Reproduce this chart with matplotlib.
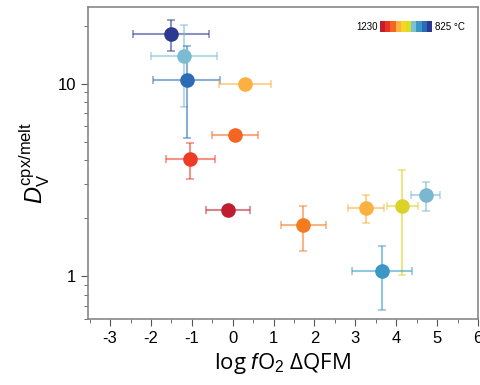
import numpy as np
import matplotlib
matplotlib.use("Agg")
import matplotlib.pyplot as plt
from matplotlib.ticker import FixedLocator, NullFormatter, MultipleLocator

plt.rcParams['font.family'] = ['Liberation Sans', 'DejaVu Sans']
plt.rcParams['axes.unicode_minus'] = False
plt.rcParams['mathtext.fontset'] = 'custom'
plt.rcParams['mathtext.rm'] = 'Liberation Sans'
plt.rcParams['mathtext.it'] = 'Liberation Sans:italic'

# data
dqfm = [-1.51, -1.19, -1.13, 0.30, 0.06, -1.04, -0.11, 1.73, 3.26, 4.15, 4.72, 3.65]
dqfm_err = [0.93, 0.80, 0.82, 0.64, 0.57, 0.60, 0.54, 0.54, 0.43, 0.38, 0.35, 0.74]
dv = [18.2, 13.9, 10.4, 9.9, 5.42, 4.07, 2.21, 1.85, 2.26, 2.32, 2.65, 1.06]
dv_hi = [21.5, 20.2, 15.6, None, None, 4.94, None, 2.32, 2.63, 3.57, 3.09, 1.44]
dv_lo = [14.7, 7.6, 5.2, None, None, 3.19, None, 1.36, 1.88, 1.02, 2.19, 0.665]
colors = ['#2b3990', '#7cbcd3', '#2b6cb4', '#fbb040', '#f26522', '#ee3b24',
          '#be1e2d', '#f47b20', '#fbb040', '#dbd22a', '#7ab8cf', '#3a97c6']
scale_colors = ['#be1e2d', '#ee3124', '#f26522', '#fbb040', '#f9d423',
                '#d7df23', '#7cc0d8', '#3a97c6', '#2b6cb4', '#2b3990']

fig = plt.figure(figsize=(4.81, 3.85), dpi=100)
ax = fig.add_axes([88/481, 1-319/385, 390/481, 312/385])

for i in range(len(dqfm)):
    if dv_hi[i] is not None:
        yerr = [[dv[i]-dv_lo[i]], [dv_hi[i]-dv[i]]]
    else:
        yerr = None
    ax.errorbar(dqfm[i], dv[i], xerr=dqfm_err[i], yerr=yerr, fmt='none',
                ecolor=colors[i], alpha=0.55, elinewidth=1.5, capsize=3, capthick=1.2)
    ax.plot(dqfm[i], dv[i], 'o', color=colors[i], markersize=9.5, zorder=3)

ax.set_yscale('log')
ax.set_xlim(-3.54, 6)
ax.set_ylim(0.6, 25)
ax.xaxis.set_major_locator(MultipleLocator(1))
ax.xaxis.set_minor_locator(MultipleLocator(0.5))
ax.yaxis.set_major_locator(FixedLocator([1, 10]))
ax.set_yticklabels(['1', '10'])
ax.yaxis.set_minor_formatter(NullFormatter())
ax.tick_params(which='both', direction='out', labelsize=12, top=False, right=False, color='#555555')
ax.tick_params(which='major', length=5)
ax.tick_params(which='minor', length=3)
for s in ax.spines.values():
    s.set_color('#888888')
    s.set_linewidth(1.2)

ax.set_xlabel(r'log $f$O$_2$ ΔQFM', fontsize=16, family=['Open Sans', 'DejaVu Sans'])
ax.set_ylabel(r'$D_\mathregular{V}^\mathregular{cpx/melt}$', fontsize=17)

# temperature scale key
cax = fig.add_axes([380/481, 1-32/385, 52/481, 11/385])
cax.imshow([np.arange(len(scale_colors))], aspect='auto',
           cmap=matplotlib.colors.ListedColormap(scale_colors))
cax.set_axis_off()
fig.text(378/481, 1-26.5/385, '1230', fontsize=7, ha='right', va='center')
fig.text(435/481, 1-26.5/385, '825 °C', fontsize=7, ha='left', va='center')

fig.savefig('out.png', dpi=100)
